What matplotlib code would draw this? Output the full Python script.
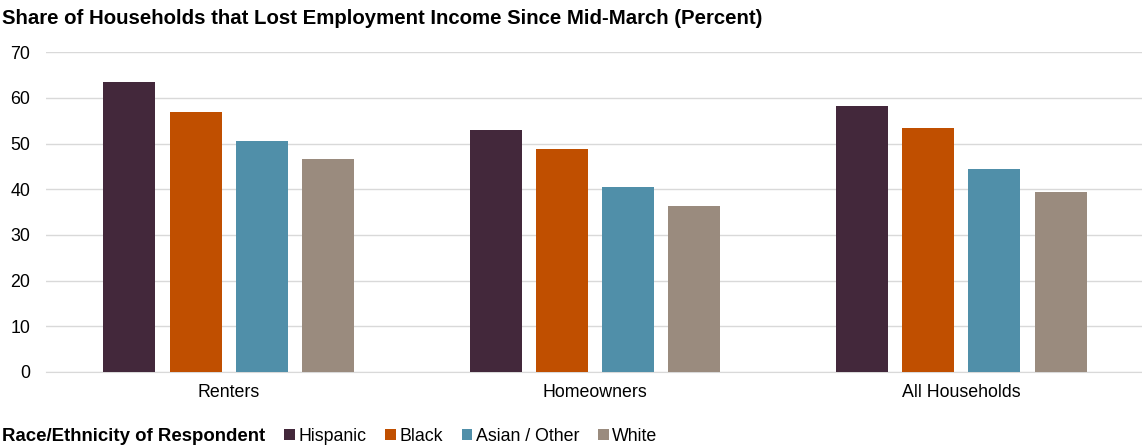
import numpy as np
import matplotlib.pyplot as plt
from matplotlib.patches import Patch

plt.rcParams["font.family"] = ["Liberation Sans", "DejaVu Sans"]

categories = ["Renters", "Homeowners", "All Households"]
groups = ["Hispanic", "Black", "Asian / Other", "White"]
hispanic = [63.4, 52.9, 58.2]
black = [57.0, 48.8, 53.4]
asian_other = [50.6, 40.4, 44.4]
white = [46.7, 36.4, 39.3]
colors = ["#43283B", "#C04F00", "#508FA9", "#9A8B7E"]

series = [hispanic, black, asian_other, white]

fig = plt.figure(figsize=(11.42, 4.46), dpi=100)
ax = fig.add_axes([0.040, 0.166, 0.962, 0.717])

x = np.arange(len(categories))
width = 0.142
step = 0.181
for i, (vals, name, c) in enumerate(zip(series, groups, colors)):
    ax.bar(x + (i - 1.5) * step, vals, width=width, color=c, label=name, zorder=3)

ax.set_xlim(-0.5, 2.5)
ax.set_ylim(0, 70)
ax.set_yticks(range(0, 71, 10))
ax.yaxis.grid(True, color="#D9D9D9", linewidth=1, zorder=0)
for s in ["top", "right", "left"]:
    ax.spines[s].set_visible(False)
ax.spines["bottom"].set_color("#D9D9D9")
ax.tick_params(axis="both", length=0, labelsize=12.8, colors="#000000")
ax.tick_params(axis="y", pad=11)
ax.tick_params(axis="x", pad=9)
ax.set_xticks(x)
ax.set_xticklabels(categories)

fig.text(0.002, 0.958, "Share of Households that Lost Employment Income Since Mid-March (Percent)",
         fontsize=14.7, fontweight="bold", va="center", ha="left")

fig.text(0.002, 0.022, "Race/Ethnicity of Respondent", fontsize=13.4, fontweight="bold",
         va="center", ha="left")
handles = [Patch(facecolor=c, label=g) for g, c in zip(groups, colors)]
fig.legend(handles=handles, loc="center left", bbox_to_anchor=(0.249, 0.022),
           ncol=4, frameon=False, fontsize=12.8, handlelength=0.6, handleheight=0.6,
           handletextpad=0.2, columnspacing=1.05, borderpad=0, borderaxespad=0)

fig.savefig("out.png", dpi=100)
